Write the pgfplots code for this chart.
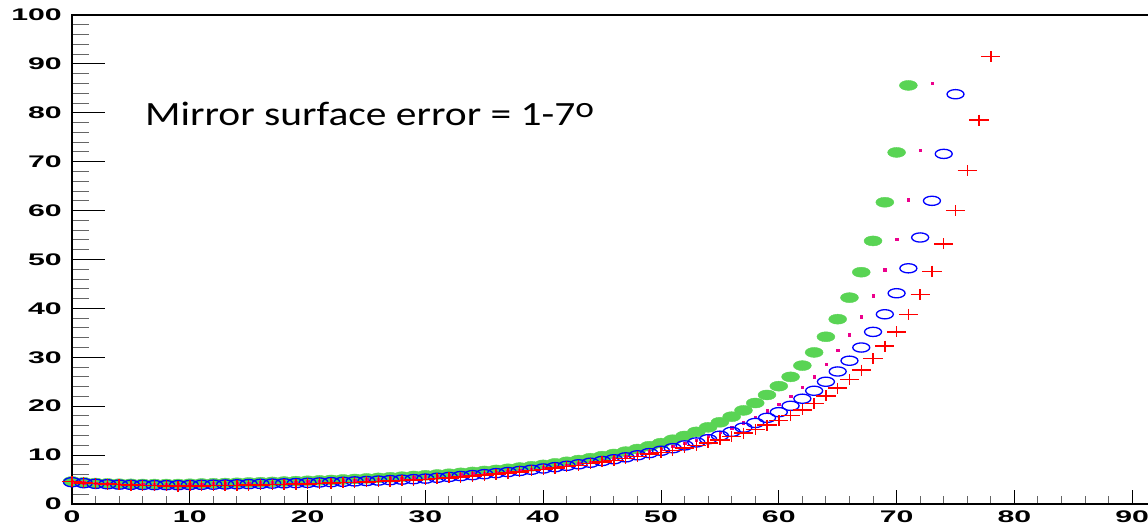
\documentclass[border=0pt]{standalone}
\usepackage{pgfplots}
\pgfplotsset{compat=1.18}
\usepackage{graphicx}
\usepackage{fontspec}
\setmainfont{Liberation Sans}
\newfontfamily\calfont{Carlito}
\definecolor{rootgreen}{RGB}{89,212,84}
\begin{document}
\begin{tikzpicture}
\useasboundingbox (0,0) rectangle (1148pt,528pt);
\clip (0,0) rectangle (1148pt,528pt);
\pgfplotsset{
  common/.style={
    at={(72pt,24pt)}, anchor=south west, scale only axis,
    width=1178pt, height=489pt,
    xmin=0, xmax=100, ymin=0, ymax=100,
    tick pos=left, tick align=inside,
    major tick style={black, line width=1pt},
    minor tick style={black!60, line width=1pt},
    tick label style={font=\fontsize{16.8}{18}\selectfont\bfseries},
  }
}
% y ticks (long)
\begin{axis}[common,
  xtick=\empty,
  ytick={0,10,...,100}, minor y tick num=4,
  major tick length=33pt, minor tick length=17pt,
  axis line style={draw=none},
  yticklabel style={anchor=east, inner sep=0pt, xshift=-10pt},
  yticklabel={\scalebox{1.8}[1]{\pgfmathprintnumber[assume math mode=true]{\tick}}},
]
\end{axis}
% data and x ticks
\begin{axis}[common,
  ytick=\empty,
  xtick={0,10,...,100}, minor x tick num=4,
  major tick length=14pt, minor tick length=8pt,
  axis line style={line width=1.8pt},
  xticklabel style={anchor=north, inner sep=0pt, yshift=-7pt},
  xticklabel={\scalebox{1.8}[1]{\pgfmathprintnumber[assume math mode=true]{\tick}}},
  clip=false,
]
\addplot[only marks, mark=*, color=rootgreen, mark size=5pt, mark options={xscale=1.8, fill=rootgreen, draw=rootgreen}] coordinates {
(0,4.61)(1,4.42)(2,4.29)(3,4.21)(4,4.15)(5,4.12)(6,4.09)(7,4.08)(8,4.08)(9,4.09)
(10,4.14)(11,4.19)(12,4.23)(13,4.28)(14,4.34)(15,4.40)(16,4.46)(17,4.52)(18,4.59)(19,4.67)
(20,4.75)(21,4.83)(22,4.92)(23,5.02)(24,5.12)(25,5.23)(26,5.34)(27,5.46)(28,5.59)(29,5.73)
(30,5.87)(31,6.03)(32,6.19)(33,6.37)(34,6.56)(35,6.76)(36,6.97)(37,7.20)(38,7.45)(39,7.71)
(40,8.00)(41,8.30)(42,8.63)(43,8.98)(44,9.37)(45,9.78)(46,10.23)(47,10.71)(48,11.24)(49,11.82)
(50,12.45)(51,13.15)(52,13.91)(53,14.75)(54,15.68)(55,16.71)(56,17.86)(57,19.14)(58,20.65)(59,22.3)
(60,24.1)(61,26.0)(62,28.3)(63,31.0)(64,34.2)(65,37.8)(66,42.2)(67,47.4)(68,53.8)(69,61.7)
(70,71.9)(71,85.6)
};
\addplot[only marks, mark=square*, color=magenta, mark size=1.2pt, mark options={fill=magenta, draw=magenta}] coordinates {
(0,4.56)(1,4.37)(2,4.23)(3,4.15)(4,4.08)(5,4.04)(6,4.02)(7,3.99)(8,3.99)(9,4.00)
(10,4.04)(11,4.08)(12,4.12)(13,4.16)(14,4.21)(15,4.26)(16,4.32)(17,4.37)(18,4.43)(19,4.50)
(20,4.57)(21,4.64)(22,4.72)(23,4.81)(24,4.90)(25,4.99)(26,5.09)(27,5.20)(28,5.31)(29,5.43)
(30,5.56)(31,5.70)(32,5.84)(33,6.00)(34,6.16)(35,6.34)(36,6.52)(37,6.72)(38,6.94)(39,7.17)
(40,7.41)(41,7.67)(42,7.95)(43,8.26)(44,8.58)(45,8.94)(46,9.32)(47,9.73)(48,10.17)(49,10.66)
(50,11.18)(51,11.76)(52,12.39)(53,13.08)(54,13.83)(55,14.67)(56,15.59)(57,16.62)(58,17.76)(59,19.04)
(60,20.47)(61,22.09)(62,23.93)(63,26.02)(64,28.6)(65,31.4)(66,34.6)(67,38.3)(68,42.6)(69,47.9)
(70,54.2)(71,62.2)(72,72.4)(73,86.0)
};
\addplot[only marks, mark=o, color=blue, mark size=4.6pt, line width=1.3pt, mark options={xscale=1.85, draw=blue}] coordinates {
(0,4.46)(1,4.26)(2,4.12)(3,4.04)(4,3.96)(5,3.92)(6,3.89)(7,3.86)(8,3.85)(9,3.85)
(10,3.89)(11,3.92)(12,3.95)(13,3.99)(14,4.03)(15,4.07)(16,4.12)(17,4.17)(18,4.22)(19,4.27)
(20,4.33)(21,4.40)(22,4.47)(23,4.54)(24,4.62)(25,4.70)(26,4.79)(27,4.88)(28,4.98)(29,5.08)
(30,5.19)(31,5.36)(32,5.53)(33,5.71)(34,5.90)(35,6.10)(36,6.31)(37,6.53)(38,6.76)(39,7.00)
(40,7.26)(41,7.53)(42,7.81)(43,8.12)(44,8.44)(45,8.79)(46,9.15)(47,9.54)(48,9.96)(49,10.41)
(50,10.89)(51,11.41)(52,11.98)(53,12.59)(54,13.25)(55,13.97)(56,14.76)(57,15.62)(58,16.57)(59,17.62)
(60,18.78)(61,20.08)(62,21.53)(63,23.16)(64,25.0)(65,27.1)(66,29.3)(67,32.0)(68,35.2)(69,38.8)
(70,43.1)(71,48.2)(72,54.5)(73,62.0)(74,71.6)(75,83.8)
};
\addplot[only marks, mark=+, color=red, mark size=5.5pt, line width=1.4pt, mark options={xscale=1.75, draw=red}] coordinates {
(0,4.56)(1,4.33)(2,4.16)(3,4.05)(4,3.94)(5,3.87)(6,3.81)(7,3.75)(8,3.71)(9,3.68)
(10,3.69)(11,3.72)(12,3.75)(13,3.79)(14,3.83)(15,3.87)(16,3.92)(17,3.97)(18,4.02)(19,4.07)
(20,4.13)(21,4.20)(22,4.27)(23,4.34)(24,4.42)(25,4.50)(26,4.59)(27,4.68)(28,4.78)(29,4.88)
(30,4.99)(31,5.16)(32,5.33)(33,5.51)(34,5.70)(35,5.90)(36,6.11)(37,6.33)(38,6.56)(39,6.80)
(40,7.06)(41,7.33)(42,7.61)(43,7.92)(44,8.24)(45,8.59)(46,8.95)(47,9.34)(48,9.76)(49,10.21)
(50,10.55)(51,10.99)(52,11.46)(53,11.96)(54,12.51)(55,13.11)(56,13.77)(57,14.48)(58,15.26)(59,16.12)
(60,17.06)(61,18.10)(62,19.26)(63,20.54)(64,22.1)(65,23.7)(66,25.4)(67,27.4)(68,29.7)(69,32.3)
(70,35.2)(71,38.8)(72,42.8)(73,47.6)(74,53.2)(75,60.0)(76,68.2)(77,78.5)(78,91.5)
};
\node[anchor=base west, inner sep=0pt] at (axis cs:6.2,77.5)
  {\scalebox{1.22}[1]{\calfont\fontsize{34}{40}\selectfont Mirror surface error = 1-7\raisebox{8pt}{\fontsize{29}{29}\selectfont o}}};
\end{axis}
\end{tikzpicture}
\end{document}
